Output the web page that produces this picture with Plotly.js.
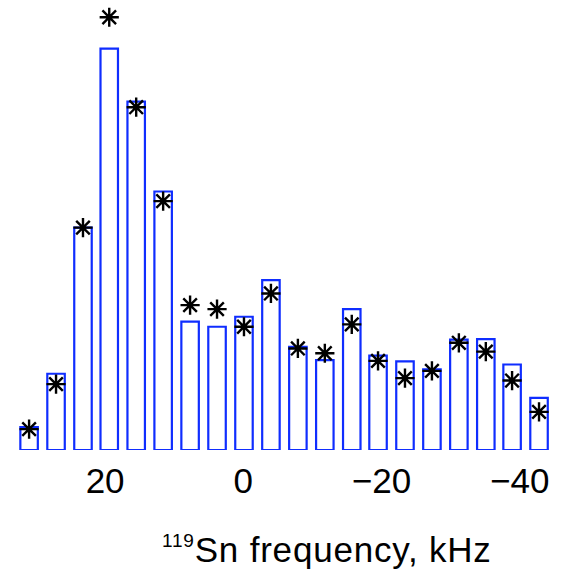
<!DOCTYPE html>
<html>
<head>
<meta charset="utf-8">
<script src="https://cdn.plot.ly/plotly-3.0.1.min.js"></script>
<style>
  html, body { margin: 0; padding: 0; background: #fff; }
  #chart { width: 561px; height: 572px; }
  #chart .annotation-text { letter-spacing: 0.8px; }
</style>
</head>
<body>
<div id="chart"></div>
<script>
// Frequency positions (kHz) of the histogram bins
const freqKHz = [31.0, 27.1, 23.2, 19.4, 15.5, 11.6, 7.7, 3.8, -0.1, -4.0,
                 -7.9, -11.8, -15.7, -19.5, -23.4, -27.3, -31.2, -35.1, -38.9, -42.8];
// Bar heights (experimental intensity, arbitrary units, tallest = 100)
const barValues = [5.7, 19.0, 55.4, 100, 86.8, 64.4, 32.0, 30.7, 33.2, 42.3,
                   25.7, 22.4, 35.1, 23.5, 22.1, 20.1, 27.5, 27.6, 21.3, 13.0];
// Asterisk values (simulated intensity, same units)
const starValues = [5.2, 16.4, 55.4, 107.8, 85.4, 62.0, 36.1, 35.1, 30.7, 39.0,
                    25.3, 24.1, 31.3, 22.2, 17.9, 19.7, 26.7, 24.5, 17.3, 9.5];
// Tick labels
const tickVals = [20, 0, -20, -40];
const xTitle = '<sup><span style="font-size:19px">119</span></sup>Sn frequency, kHz';

const bars = {
  type: 'bar',
  x: freqKHz,
  y: barValues,
  width: 2.53,
  marker: { color: '#ffffff', line: { color: '#0f2dff', width: 2.2 } },
  hoverinfo: 'x+y',
  showlegend: false
};
const stars = {
  type: 'scatter',
  mode: 'markers',
  x: freqKHz,
  y: starValues,
  cliponaxis: false,
  marker: { symbol: 'asterisk-open', size: 16, color: '#000000',
            line: { color: '#000000', width: 2.4 } },
  showlegend: false
};

const layout = {
  width: 561, height: 572,
  margin: { l: 0, r: 0, t: 0, b: 122, pad: 0 },
  paper_bgcolor: '#ffffff', plot_bgcolor: '#ffffff',
  font: { family: 'Liberation Sans, Arial, Helvetica, sans-serif', color: '#000000' },
  bargap: 0,
  xaxis: {
    range: [35.21, -45.98],
    tickvals: tickVals,
    ticks: '', showline: false, showgrid: false, zeroline: false,
    tickfont: { size: 35, color: '#000000' },
    ticklabelstandoff: 7,
    fixedrange: true
  },
  yaxis: {
    range: [0, 112.1],
    visible: false,
    fixedrange: true
  },
  annotations: [{
    text: xTitle,
    xref: 'paper', yref: 'paper',
    x: 168 / 561, xanchor: 'left',
    y: -0.2222, yanchor: 'middle',
    showarrow: false,
    font: { size: 35, color: '#000000' }
  }]
};

Plotly.newPlot('chart', [bars, stars], layout, { displayModeBar: false, staticPlot: true });
</script>
</body>
</html>
